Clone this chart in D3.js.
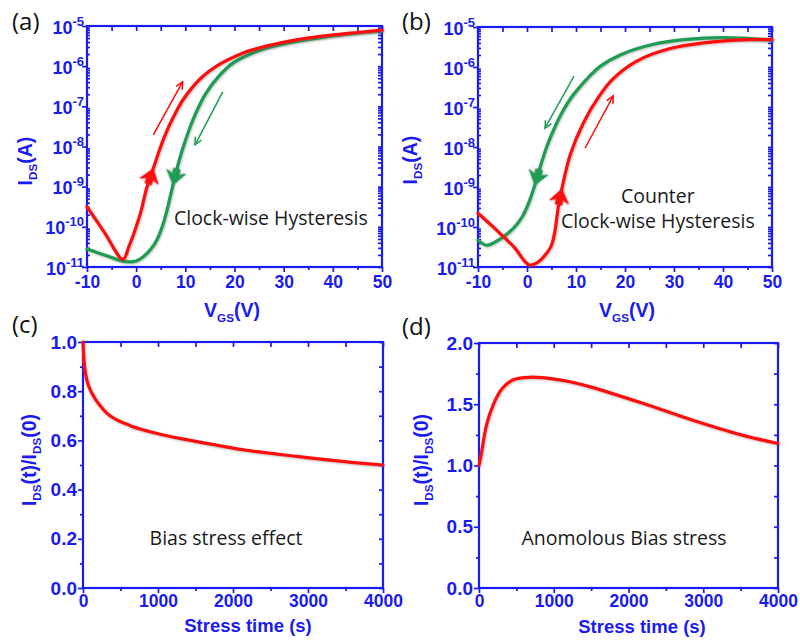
<!DOCTYPE html>
<html><head><meta charset="utf-8">
<script src="https://cdn.jsdelivr.net/npm/d3@7"></script>
<style>body{margin:0;background:#fff}svg{display:block}</style>
</head><body>
<svg id="chart" width="800" height="641"></svg>
<script>
// ---------------- DATA ----------------
// (a) clockwise hysteresis: forward (red) and reverse (green) sweeps
const vgsA_fwd = [-10, -6.5, -2.7, -1.5, 0, 1.0, 2.1, 3.46, 4.85, 5.9, 7.5, 9.6, 13, 17, 21.8, 26.5, 32, 38.8, 45, 50];
const idsA_fwd = [3.16e-10, 7.4e-11, 1.55e-11, 3.16e-11, 1.0e-10, 2.5e-10, 8.9e-10, 2.8e-9, 8.9e-9, 1.95e-8, 5.2e-8, 1.5e-7, 4.8e-7, 1.12e-6, 2.14e-6, 3.16e-6, 4.4e-6, 5.75e-6, 6.9e-6, 7.9e-6];
const vgsA_rev = [-10, -6, -2.5, 0, 1.5, 3, 4.2, 5.3, 6.2, 7.2, 8.2, 9.3, 11.6, 14.2, 17, 19.8, 25.2, 32, 38.8, 45, 50];
const idsA_rev = [2.8e-11, 1.9e-11, 1.38e-11, 1.41e-11, 1.82e-11, 2.8e-11, 4.7e-11, 1.0e-10, 2.4e-10, 7.9e-10, 2.5e-9, 7.6e-9, 4.8e-8, 2.14e-7, 6.0e-7, 1.23e-6, 2.5e-6, 4.0e-6, 5.4e-6, 6.6e-6, 7.6e-6];
// (b) counter clockwise hysteresis
const vgsB_fwd = [-10, -6, -2.5, -0.5, 0.5, 2, 4, 5.0, 5.7, 6.1, 6.5, 7.1, 8.8, 11.5, 14.9, 17.5, 22.4, 29.2, 36, 42.8, 50];
const idsB_fwd = [2.2e-10, 7.9e-11, 3.0e-11, 1.41e-11, 1.12e-11, 1.26e-11, 2.2e-11, 3.5e-11, 7.9e-11, 1.78e-10, 4.0e-10, 8.9e-10, 6.3e-9, 4.0e-8, 2.0e-7, 5.0e-7, 1.41e-6, 2.9e-6, 4.0e-6, 4.7e-6, 4.9e-6];
const vgsB_rev = [-10, -8.2, -5.5, -2.8, -1, 0.5, 1.6, 2.8, 4, 5.7, 7.4, 9.1, 10.8, 12.2, 15, 19, 25.8, 32.6, 40, 50];
const idsB_rev = [4.7e-11, 3.5e-11, 5.0e-11, 9.3e-11, 1.78e-10, 4.5e-10, 1.12e-9, 3.5e-9, 1.0e-8, 3.16e-8, 8.3e-8, 1.78e-7, 3.2e-7, 5.0e-7, 1.05e-6, 2.0e-6, 3.7e-6, 4.9e-6, 5.4e-6, 4.7e-6];
// (c) bias stress effect
const timeC = [0, 25, 70, 160, 360, 630, 1030, 1520, 2180, 2850, 3520, 4000];
const ratioC = [1.0, 0.89, 0.825, 0.77, 0.70, 0.66, 0.625, 0.595, 0.56, 0.535, 0.513, 0.50];
// (d) anomalous bias stress
const timeD = [0, 35, 100, 190, 300, 440, 615, 840, 1200, 1500, 2180, 2850, 3510, 4000];
const ratioD = [1.0, 1.11, 1.33, 1.495, 1.62, 1.695, 1.718, 1.718, 1.686, 1.64, 1.51, 1.372, 1.25, 1.18];

// ticks
const vgsTicks = [-10, 0, 10, 20, 30, 40, 50];
const vgsMinor = [-5, 5, 15, 25, 35, 45];
const idsTicks = [1e-11, 1e-10, 1e-9, 1e-8, 1e-7, 1e-6, 1e-5];
const timeTicks = [0, 1000, 2000, 3000, 4000];
const timeMinor = [500, 1500, 2500, 3500];
const ratioTicksC = [0, 0.2, 0.4, 0.6, 0.8, 1.0];
const ratioMinorC = [0.1, 0.3, 0.5, 0.7, 0.9];
const ratioTicksD = [0, 0.5, 1.0, 1.5, 2.0];
const ratioMinorD = [0.25, 0.75, 1.25, 1.75];

// annotation texts
const panelLetters = ["(a)", "(b)", "(c)", "(d)"];
const noteA = ["Clock-wise Hysteresis"];
const noteB = ["Counter", "Clock-wise Hysteresis"];
const noteC = ["Bias stress effect"];
const noteD = ["Anomolous Bias stress"];

// ---------------- STYLE ----------------
const BLUE = "#1a1af2";
const RED = "#ff0a0a";
const GREEN = "#1f9d52";
const TICKFONT = "'Liberation Sans', Arial, sans-serif";
const NOTEFONT = "'Open Sans', 'Noto Sans', sans-serif";

const svg = d3.select("#chart");
svg.append("rect").attr("width", 800).attr("height", 641).attr("fill", "#fff");
const defs = svg.append("defs");
const flt = defs.append("filter").attr("id", "soft").attr("x", "-5%").attr("y", "-5%").attr("width", "110%").attr("height", "110%");
flt.append("feDropShadow").attr("dx", 0.6).attr("dy", 0.8).attr("stdDeviation", 0.8)
  .attr("flood-color", "#555").attr("flood-opacity", 0.45);

const logMinor = [];
idsTicks.slice(0, -1).forEach(d => { for (let k = 2; k <= 9; k++) logMinor.push(d * k); });

function styleAxis(sel, size) {
  sel.select(".domain").remove();
  sel.selectAll("line").attr("stroke", BLUE).attr("stroke-width", 1.7);
  sel.selectAll("text").attr("fill", BLUE).attr("font-family", TICKFONT)
     .attr("font-weight", "bold").attr("font-size", size || 17.5);
}

function drawPanel(p) {
  const g = svg.append("g");
  const x = p.x, y = p.y;
  const [l, r] = x.range();
  const [b, t] = y.range();

  // bottom
  g.append("g").attr("transform", `translate(0,${b})`)
    .call(d3.axisBottom(x).tickValues(p.xMajor).tickSize(5).tickSizeOuter(0).tickPadding(p.xPad).tickFormat(d => String(d)))
    .call(styleAxis, 17.5);
  g.append("g").attr("transform", `translate(0,${b})`)
    .call(d3.axisBottom(x).tickValues(p.xMinor).tickSize(3).tickSizeOuter(0).tickFormat(""))
    .call(styleAxis);
  // top (inward)
  g.append("g").attr("transform", `translate(0,${t})`)
    .call(d3.axisTop(x).tickValues(p.xMajor.concat(p.xMinor)).tickSize(-5).tickSizeOuter(0).tickFormat(""))
    .call(styleAxis);
  // left
  const la = g.append("g").attr("transform", `translate(${l},0)`)
    .call(d3.axisLeft(y).tickValues(p.yMajor).tickSize(5).tickSizeOuter(0).tickPadding(1)
      .tickFormat(p.log ? (() => "") : p.yFmt))
    .call(styleAxis, 19);
  if (p.log) {
    la.selectAll(".tick text").each(function (d) {
      const e = Math.round(Math.log10(d));
      const tx = d3.select(this).attr("x", -3).attr("dy", null).attr("y", 7).attr("font-size", 18);
      tx.text(null);
      tx.append("tspan").text("10");
      tx.append("tspan").attr("dy", -8).attr("font-size", 13).text(String(e));
    });
  }
  g.append("g").attr("transform", `translate(${l},0)`)
    .call(p.log ? d3.axisRight(y).tickValues(p.yMinor).tickSize(3).tickSizeOuter(0).tickFormat("")
                : d3.axisLeft(y).tickValues(p.yMinor).tickSize(3).tickSizeOuter(0).tickFormat(""))
    .call(styleAxis);
  // right (inward)
  g.append("g").attr("transform", `translate(${r},0)`)
    .call(d3.axisRight(y).tickValues(p.yMajor.concat(p.yMinor)).tickSize(-4).tickSizeOuter(0).tickFormat(""))
    .call(styleAxis);

  // frame
  g.append("rect").attr("x", l).attr("y", t).attr("width", r - l).attr("height", b - t)
    .attr("fill", "none").attr("stroke", BLUE).attr("stroke-width", 2.2);
  return g;
}

function curve(g, x, y, xs, ys, color) {
  const pts = xs.map((v, i) => [v, ys[i]]);
  g.append("path").datum(pts)
    .attr("d", d3.line().x(d => x(d[0])).y(d => y(d[1])).curve(d3.curveCatmullRom.alpha(0.5)))
    .attr("fill", "none").attr("stroke", color).attr("stroke-width", 3.2)
    .attr("stroke-linejoin", "round").attr("stroke-linecap", "round")
    .attr("filter", "url(#soft)");
}

function thinArrow(g, x, y, from, to, color) {
  const x1 = x(from[0]), y1 = y(from[1]), x2 = x(to[0]), y2 = y(to[1]);
  g.append("line").attr("x1", x1).attr("y1", y1).attr("x2", x2).attr("y2", y2)
    .attr("stroke", color).attr("stroke-width", 1.5);
  const a = Math.atan2(y2 - y1, x2 - x1);
  const L = 8, w = 0.45;
  const p1 = [x2 - L * Math.cos(a - w), y2 - L * Math.sin(a - w)];
  const p2 = [x2 - L * Math.cos(a + w), y2 - L * Math.sin(a + w)];
  g.append("path").attr("d", `M${p1}L${x2},${y2}L${p2}`)
    .attr("fill", "none").attr("stroke", color).attr("stroke-width", 1.5);
}

function blockArrow(g, x, y, from, to, color) {
  const x1 = x(from[0]), y1 = y(from[1]), x2 = x(to[0]), y2 = y(to[1]);
  const ang = Math.atan2(y2 - y1, x2 - x1) * 180 / Math.PI + 90;
  g.append("path").attr("d", "M0,0 L9.5,13 L3.2,10.5 L3.2,16 L-3.2,16 L-3.2,10.5 L-9.5,13 Z")
    .attr("transform", `translate(${x2},${y2}) rotate(${ang})`)
    .attr("fill", color).attr("stroke", color).attr("stroke-width", 1).attr("stroke-linejoin", "round")
    .attr("filter", "url(#soft)");
}

function note(g, px, py, txt) {
  g.append("text").attr("x", px).attr("y", py).attr("text-anchor", "middle")
    .attr("font-family", NOTEFONT).attr("font-size", 19.5).attr("fill", "#1a1a1a").text(txt);
}

function richText(g, px, py, parts, rotate, size) {
  const t = g.append("text").attr("transform", `translate(${px},${py})` + (rotate ? " rotate(-90)" : ""))
    .attr("text-anchor", "middle").attr("font-family", TICKFONT).attr("font-weight", "bold")
    .attr("font-size", size).attr("fill", BLUE);
  let shift = 0;
  parts.forEach(pt => {
    const s = t.append("tspan").text(pt.t);
    if (pt.sub) { s.attr("font-size", size * 0.6).attr("dy", 5 - shift); shift = 5; }
    else { s.attr("dy", -shift); shift = 0; }
  });
  return t;
}

// ---------------- PANELS ----------------
const fmt1 = d3.format(".1f");

// (a)
const xA = d3.scaleLinear().domain([-10, 50]).range([87, 382]);
const yA = d3.scaleLog().domain([1e-11, 1e-5]).range([267, 26]);
const gA = drawPanel({x: xA, y: yA, xMajor: vgsTicks, xMinor: vgsMinor, xPad: 4,
  yMajor: idsTicks, yMinor: logMinor, log: true});
curve(gA, xA, yA, vgsA_rev, idsA_rev, GREEN);
curve(gA, xA, yA, vgsA_fwd, idsA_fwd, RED);
thinArrow(gA, xA, yA, [3.49, 1.95e-8], [9.46, 4.1e-7], RED);
thinArrow(gA, xA, yA, [17.6, 2.3e-7], [11.97, 1.1e-8], GREEN);
blockArrow(gA, xA, yA, [2.1, 8.9e-10], [3.46, 2.8e-9], RED);
blockArrow(gA, xA, yA, [8.5, 3.4e-9], [7.5, 1.12e-9], GREEN);
note(gA, xA(27.4), yA(1.12e-10), noteA[0]);

// (b)
const xB = d3.scaleLinear().domain([-10, 50]).range([478, 772]);
const yB = d3.scaleLog().domain([1e-11, 1e-5]).range([267, 27]);
const gB = drawPanel({x: xB, y: yB, xMajor: vgsTicks, xMinor: vgsMinor, xPad: 4,
  yMajor: idsTicks, yMinor: logMinor, log: true});
curve(gB, xB, yB, vgsB_rev, idsB_rev, GREEN);
curve(gB, xB, yB, vgsB_fwd, idsB_fwd, RED);
thinArrow(gB, xB, yB, [9.59, 5.9e-7], [3.67, 2.95e-8], GREEN);
thinArrow(gB, xB, yB, [11.84, 9.3e-9], [17.6, 1.9e-7], RED);
blockArrow(gB, xB, yB, [2.8, 3.5e-9], [1.6, 1.12e-9], GREEN);
blockArrow(gB, xB, yB, [6.5, 4.0e-10], [7.1, 8.9e-10], RED);
note(gB, xB(26.7), yB(3.98e-10), noteB[0]);
note(gB, xB(26.7), yB(9.3e-11), noteB[1]);

// (c)
const xC = d3.scaleLinear().domain([0, 4000]).range([83, 383]);
const yC = d3.scaleLinear().domain([0, 1.0]).range([588, 342]);
const gC = drawPanel({x: xC, y: yC, xMajor: timeTicks, xMinor: timeMinor, xPad: 2,
  yMajor: ratioTicksC, yMinor: ratioMinorC, yFmt: fmt1, log: false});
curve(gC, xC, yC, timeC, ratioC, RED);
note(gC, xC(1907), yC(0.175), noteC[0]);

// (d)
const xD = d3.scaleLinear().domain([0, 4000]).range([479, 778]);
const yD = d3.scaleLinear().domain([0, 2.0]).range([588, 343]);
const gD = drawPanel({x: xD, y: yD, xMajor: timeTicks, xMinor: timeMinor, xPad: 2,
  yMajor: ratioTicksD, yMinor: ratioMinorD, yFmt: fmt1, log: false});
curve(gD, xD, yD, timeD, ratioD, RED);
note(gD, xD(1940), yD(0.35), noteD[0]);

// ---------------- TITLES ----------------
const titles = svg.append("g");
richText(titles, 32, 161, [{t: "I"}, {t: "DS", sub: true}, {t: "(A)"}], true, 19.5);
richText(titles, 417, 160, [{t: "I"}, {t: "DS", sub: true}, {t: "(A)"}], true, 19.5);
richText(titles, 36, 460, [{t: "I"}, {t: "DS", sub: true}, {t: "(t)/I"}, {t: "DS", sub: true}, {t: "(0)"}], true, 19.5);
richText(titles, 428, 460, [{t: "I"}, {t: "DS", sub: true}, {t: "(t)/I"}, {t: "DS", sub: true}, {t: "(0)"}], true, 19.5);
richText(titles, 232, 317, [{t: "V"}, {t: "GS", sub: true}, {t: "(V)"}], false, 19.5);
richText(titles, 627, 317, [{t: "V"}, {t: "GS", sub: true}, {t: "(V)"}], false, 19.5);
richText(titles, 248, 632, [{t: "Stress time (s)"}], false, 18.5);
richText(titles, 642, 633, [{t: "Stress time (s)"}], false, 18.5);

const letterPos = [[12, 30], [402, 30], [12, 333], [402, 335]];
panelLetters.forEach((s, i) => {
  svg.append("text").attr("x", letterPos[i][0]).attr("y", letterPos[i][1])
    .attr("font-family", NOTEFONT).attr("font-size", 24).attr("fill", "#111").text(s);
});
</script>
</body></html>
